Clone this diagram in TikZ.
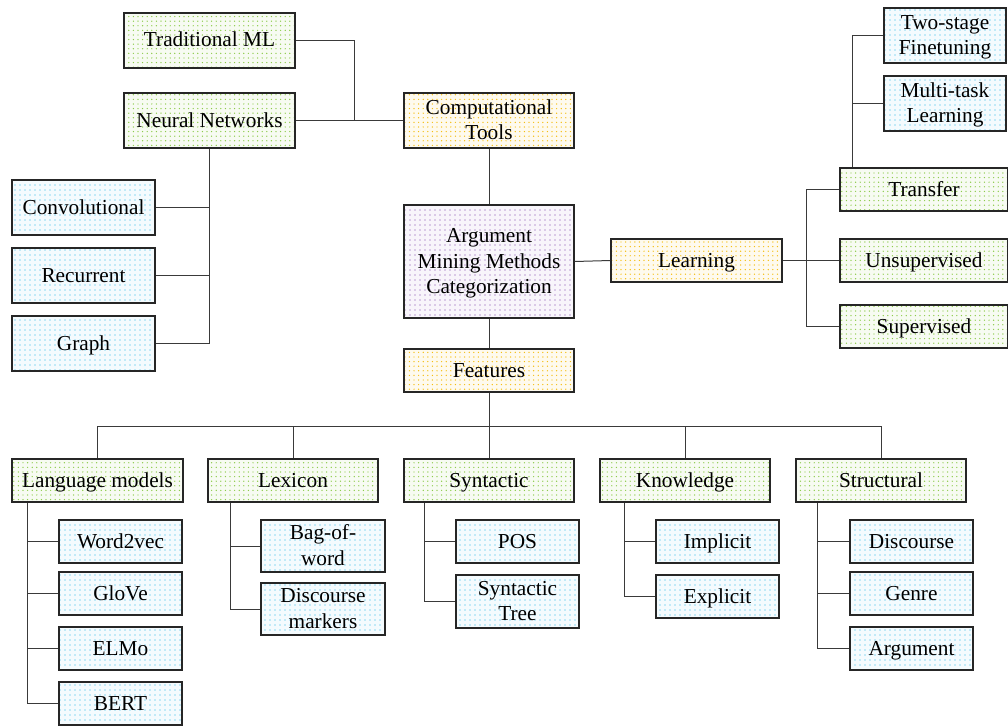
\documentclass[tikz,border=0pt]{standalone}
\usepackage{fontspec}
\setmainfont{Liberation Serif}
\usetikzlibrary{patterns.meta}
\definecolor{dotgreen}{HTML}{8CCB4A}
\definecolor{dotblue}{HTML}{1FB4E8}
\definecolor{dotorange}{HTML}{F5BE12}
\definecolor{dotpurple}{HTML}{7A3DA8}
\definecolor{linkgray}{HTML}{3A3A3A}
\tikzset{
  box/.style={draw=black!85, line width=1.2pt, inner sep=0pt, align=center,
    font=\fontsize{21.3}{25.5}\selectfont, text height=16pt, text depth=3pt},
  two lines/.style={text height=41.5pt, text depth=3pt},
  three lines/.style={text height=67pt, text depth=3pt},
  gbox/.style={box, preaction={fill=dotgreen!7},
    pattern={Dots[radius=0.7pt, distance=4.6pt]}, pattern color=dotgreen},
  bbox/.style={box, preaction={fill=dotblue!5},
    pattern={Dots[radius=0.7pt, distance=5pt]}, pattern color=dotblue},
  obox/.style={box, preaction={fill=dotorange!7},
    pattern={Dots[radius=0.7pt, distance=4.6pt]}, pattern color=dotorange},
  pbox/.style={box, preaction={fill=dotpurple!5},
    pattern={Dots[radius=0.7pt, distance=5pt]}, pattern color=dotpurple},
  link/.style={draw=linkgray, line width=1pt},
}
\begin{document}
\begin{tikzpicture}[x=1pt, y=-1pt]
\useasboundingbox (0,0) rectangle (1008,725);

% computational tools branch
\node[gbox, minimum width=171pt, minimum height=55pt] (tml) at (209.5,40.5) {Traditional ML};
\node[gbox, minimum width=171pt, minimum height=55pt] (nn) at (209.5,120.5) {Neural Networks};
\node[obox, two lines, minimum width=170pt, minimum height=55pt] (ct) at (489,120.5) {Computational\\Tools};
\node[bbox, minimum width=143pt, minimum height=55pt] (conv) at (83.5,207.5) {Convolutional};
\node[bbox, minimum width=143pt, minimum height=55pt] (rec) at (83.5,275.5) {Recurrent};
\node[bbox, minimum width=143pt, minimum height=55pt] (graph) at (83.5,343.5) {Graph};

% root
\node[pbox, three lines, minimum width=170pt, minimum height=113pt] (root) at (489,261.5) {Argument\\Mining Methods\\Categorization};

% learning branch
\node[obox, minimum width=171pt, minimum height=43pt] (learn) at (696.5,260.5) {Learning};
\node[gbox, minimum width=168pt, minimum height=43pt] (tr) at (924,189.5) {Transfer};
\node[gbox, minimum width=168pt, minimum height=43pt] (unsup) at (924,260.5) {Unsupervised};
\node[gbox, minimum width=168pt, minimum height=43pt] (sup) at (924,326.5) {Supervised};
\node[bbox, two lines, minimum width=122pt, minimum height=55pt] (two) at (945,35.5) {Two-stage\\Finetuning};
\node[bbox, two lines, minimum width=122pt, minimum height=55pt] (multi) at (945,103.5) {Multi-task\\Learning};

% features branch
\node[obox, minimum width=170pt, minimum height=43pt] (feat) at (489,370.5) {Features};
\node[gbox, minimum width=171pt, minimum height=43pt] (lm) at (97.5,480.5) {Language models};
\node[gbox, minimum width=170pt, minimum height=43pt] (lex) at (293,480.5) {Lexicon};
\node[gbox, minimum width=170pt, minimum height=43pt] (syn) at (489,480.5) {Syntactic};
\node[gbox, minimum width=170pt, minimum height=43pt] (kn) at (685,480.5) {Knowledge};
\node[gbox, minimum width=170pt, minimum height=43pt] (st) at (881,480.5) {Structural};

\node[bbox, minimum width=123pt, minimum height=43pt] (w2v) at (120.5,541.5) {Word2vec};
\node[bbox, minimum width=123pt, minimum height=43pt] (glove) at (120.5,593.5) {GloVe};
\node[bbox, minimum width=123pt, minimum height=43pt] (elmo) at (120.5,648.5) {ELMo};
\node[bbox, minimum width=123pt, minimum height=43pt] (bert) at (120.5,703.5) {BERT};

\node[bbox, two lines, minimum width=124pt, minimum height=52pt] (bow) at (323,546) {Bag-of-\\word};
\node[bbox, two lines, minimum width=124pt, minimum height=52pt] (dm) at (323,609) {Discourse\\markers};

\node[bbox, minimum width=123pt, minimum height=43pt] (pos) at (517.5,541.5) {POS};
\node[bbox, two lines, minimum width=123pt, minimum height=53pt] (stree) at (517.5,601.5) {Syntactic\\Tree};

\node[bbox, minimum width=123pt, minimum height=43pt] (impl) at (717.5,541.5) {Implicit};
\node[bbox, minimum width=123pt, minimum height=43pt] (expl) at (717.5,596.5) {Explicit};

\node[bbox, minimum width=123pt, minimum height=43pt] (disc) at (911.5,541.5) {Discourse};
\node[bbox, minimum width=123pt, minimum height=43pt] (genre) at (911.5,593.5) {Genre};
\node[bbox, minimum width=123pt, minimum height=43pt] (arg) at (911.5,648.5) {Argument};

% junction points
\coordinate (ctj) at (354,120.5);
\coordinate (nnx) at (209.5,0);
\coordinate (lj) at (806,0);
\coordinate (tj) at (852,0);
\coordinate (fbus) at (489,426);
\coordinate (lmx) at (27,0);
\coordinate (lexx) at (230,0);
\coordinate (synx) at (424,0);
\coordinate (knx) at (624,0);
\coordinate (stx) at (817,0);

% computational tools connectors
\draw[link] (tml.east) -| (ctj);
\draw[link] (nn.east) -- (ct.west);
\draw[link] (nn.south) -- (graph.east -| nnx) -- (graph.east);
\draw[link] (conv.east) -- (conv.east -| nnx);
\draw[link] (rec.east) -- (rec.east -| nnx);
\draw[link] (ct.south) -- (root.north);

% learning connectors
\draw[link] (root.east) -- (learn.west);
\draw[link] (learn.east) -- (unsup.west);
\draw[link] (tr.west) -- (tr.west -| lj) -- (sup.west -| lj) -- (sup.west);
\draw[link] (tr.north -| tj) |- (two.west);
\draw[link] (multi.west) -- (multi.west -| tj);

% features connectors
\draw[link] (root.south) -- (feat.north);
\draw[link] (feat.south) -- (fbus);
\draw[link] (lm.north) -- (lm.north |- fbus) -- (st.north |- fbus) -- (st.north);
\draw[link] (lex.north) -- (lex.north |- fbus);
\draw[link] (syn.north) -- (fbus);
\draw[link] (kn.north) -- (kn.north |- fbus);

\draw[link] (lm.south -| lmx) |- (bert.west);
\draw[link] (w2v.west) -- (w2v.west -| lmx);
\draw[link] (glove.west) -- (glove.west -| lmx);
\draw[link] (elmo.west) -- (elmo.west -| lmx);

\draw[link] (lex.south -| lexx) |- (dm.west);
\draw[link] (bow.west) -- (bow.west -| lexx);

\draw[link] (syn.south -| synx) |- (stree.west);
\draw[link] (pos.west) -- (pos.west -| synx);

\draw[link] (kn.south -| knx) |- (expl.west);
\draw[link] (impl.west) -- (impl.west -| knx);

\draw[link] (st.south -| stx) |- (arg.west);
\draw[link] (disc.west) -- (disc.west -| stx);
\draw[link] (genre.west) -- (genre.west -| stx);
\end{tikzpicture}
\end{document}
